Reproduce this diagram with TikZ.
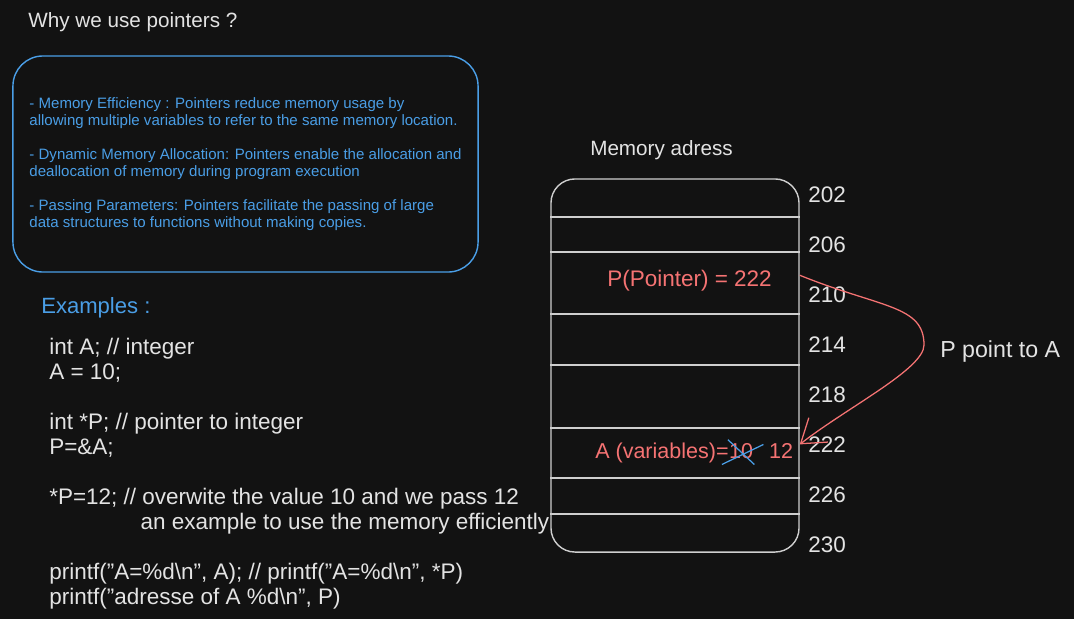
\documentclass[tikz,border=0pt]{standalone}
\usepackage{fontspec}
\setmainfont{Liberation Sans}
\usepackage{xcolor}
\usetikzlibrary{positioning,arrows.meta}

\definecolor{bgdark}{HTML}{121212}
\definecolor{inkwhite}{HTML}{E3E3E3}
\definecolor{inkblue}{HTML}{4A9EE6}
\definecolor{inkred}{HTML}{F57373}
\definecolor{inkgray}{HTML}{CFCFCF}

\tikzset{
  txt/.style={inkwhite, inner sep=0pt, anchor=base west},
  redtxt/.style={txt, inkred, font=\fontsize{16}{18}\selectfont},
  cellline/.style={inkgray, line width=1pt},
  strike/.style={inkblue, line width=0.9pt},
}

\begin{document}
\begin{tikzpicture}[x=0.025cm, y=-0.025cm]
\fill[bgdark] (0,0) rectangle (1074,619);
\useasboundingbox (0,0) rectangle (1074,619);

\node[txt, font=\fontsize{14.7}{17}\selectfont] (title) at (28,27) {Why we use pointers ?};

% reasons box
\node[draw=inkblue, line width=1pt, rounded corners=0.75cm, minimum width=11.625cm, minimum height=5.4cm,
      inkblue, align=left, font=\fontsize{10.7}{12.1}\selectfont] (reasons) at (245.5,164)
  {- Memory Efficiency : Pointers reduce memory usage by\\
   allowing multiple variables to refer to the same memory location.\\
   \mbox{}\\
   - Dynamic Memory Allocation: Pointers enable the allocation and\\
   deallocation of memory during program execution\\
   \mbox{}\\
   - Passing Parameters: Pointers facilitate the passing of large\\
   data structures to functions without making copies.};

\node[txt, inkblue, font=\fontsize{15.7}{18}\selectfont] (examples) at (41,313) {Examples :};

\node[txt, anchor=north west, align=left, font=\fontsize{16}{17.8}\selectfont] (code) at (49,338)
  {int A; // integer\\
   A = 10;\\
   \mbox{}\\
   int *P; // pointer to integer\\
   P=\&A;\\
   \mbox{}\\
   *P=12; // overwite the value 10 and we pass 12\\
   \hspace*{65pt}an example to use the memory efficiently\\
   \mbox{}\\
   printf("A=\%d\textbackslash n", A); // printf("A=\%d\textbackslash n", *P)\\
   printf("adresse of A \%d\textbackslash n", P)};

% memory column
\node[txt, font=\fontsize{14.7}{17}\selectfont] (memtitle) at (590,155) {Memory adress};
\node[draw=inkgray, line width=1pt, rounded corners=0.6cm, minimum width=6.2cm, minimum height=9.325cm] (mem) at (675,365.5) {};
\foreach \y in {217,252,314,365,428,478,514}
  \draw[cellline] (mem.west |- 0,\y) -- (mem.east |- 0,\y);

\foreach \addr [count=\i from 0] in {202,206,...,230}
  \node[txt, font=\fontsize{16}{18}\selectfont] (addr\addr) at (808,{202+50*\i}) {\addr};

\node[redtxt] (ptr) at (607,286) {P(Pointer) = 222};
\node[redtxt, font=\fontsize{15.3}{18}\selectfont] (aeq) at (595,458) {A (variables)=};
\node[redtxt, font=\fontsize{15.3}{18}\selectfont, base right=0pt of aeq] (aten) {10};
\node[redtxt, font=\fontsize{15.3}{18}\selectfont, base right=11pt of aten] (atwelve) {12};
\draw[strike] ([shift={(-7,6)}]aten.south west) -- ([shift={(10,-14)}]aten.south east);
\draw[strike] ([shift={(-1,-3)}]aten.north west) -- ([shift={(1,6)}]aten.south east);

% pointer arrow
\coordinate (bend) at (924,345);
\draw[inkred, line width=0.9pt, -{Straight Barb[length=16pt,width=22pt]}]
  ([yshift=3.5pt]ptr.east -| mem.east) .. controls +(-22:2.2cm) and +(90:1cm) .. (bend)
  .. controls +(-90:0.6cm) and +(38:1.5cm) .. ([yshift=5.7pt]aeq.east -| mem.east);
\node[txt, font=\fontsize{16.5}{18}\selectfont] (pointnote) at (940,357) {P point to A};

\end{tikzpicture}
\end{document}
